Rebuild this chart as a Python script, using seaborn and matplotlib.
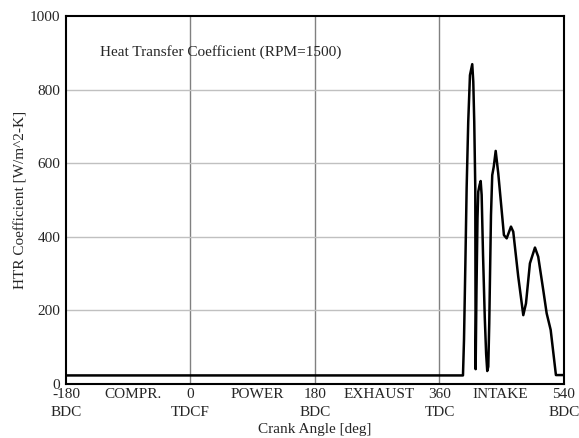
import numpy as np
import pandas as pd
import seaborn as sns
import matplotlib.pyplot as plt

# crank angle [deg] and heat transfer coefficient [W/m^2-K]
crank_angle = [-180, 394.0, 395.5, 397.5, 399.3, 401.6, 404.1, 407.4, 408.9, 410.3,
               411.8, 412.3, 413.5, 415.0, 416.1, 418.0, 419.6, 421.0, 423.0,
               425.5, 427.5, 429.1, 430.6, 432.0, 434.5, 436.3, 438.5, 441.3,
               445.0, 449.9, 453.2, 457.2, 463.4, 466.7, 473.9, 481.2, 485.1,
               490.8, 498.1, 502.8, 510.1, 515.0, 520.8, 528.4, 540]
htr_coeff = [22, 22, 120, 330, 532, 712, 839, 869, 821, 712,
             532, 39, 250, 450, 522, 540, 551, 513, 350,
             180, 80, 34, 46, 164, 458, 567, 590, 633,
             572, 472, 404, 395, 427, 413, 291, 186, 218,
             327, 370, 345, 254, 191, 146, 23, 23]

major_ticks = [-180, 0, 180, 360, 540]
major_labels = ["-180\nBDC", "0\nTDCF", "180\nBDC", "360\nTDC", "540\nBDC"]
phase_names = ["COMPR.", "POWER", "EXHAUST", "INTAKE"]
phase_pos = [-83, 96, 272, 448]

df = pd.DataFrame({"angle": crank_angle, "htr": htr_coeff})

sns.set_style("white")
plt.rcParams['font.family'] = ['Liberation Serif', 'DejaVu Serif']

fig = plt.figure(figsize=(5.79, 4.38), dpi=100)
ax = fig.add_axes([0.114, 0.1244, 0.860, 0.839])

# grid: dark vertical lines at TDC/BDC, light horizontal ones
for v in [0, 180, 360]:
    ax.axvline(v, color='#808080', lw=1.0, zorder=1)
for h in [200, 400, 600, 800]:
    ax.axhline(h, color='#c0c0c0', lw=1.0, zorder=1)

sns.lineplot(data=df, x="angle", y="htr", color='black', lw=1.8, ax=ax, zorder=3)

ax.set_xlim(-180, 540)
ax.set_ylim(0, 1000)
ax.set_yticks(range(0, 1001, 200))
ax.set_xticks(major_ticks)
ax.set_xticklabels(major_labels, fontsize=11, linespacing=1.5)
ax.set_xticks(np.arange(-180, 541, 10), minor=True)
ax.tick_params(axis='x', which='major', length=0, pad=3)
ax.tick_params(axis='x', which='minor', direction='in', length=4, width=0.8, color='black')
ax.tick_params(axis='y', which='major', direction='out', length=2, labelsize=11, pad=2)

# phase names sit on the first line of the tick labels
for name, pos in zip(phase_names, phase_pos):
    ax.text(pos, -0.0125, name, transform=ax.get_xaxis_transform(),
            ha='center', va='top', fontsize=11)

for s in ax.spines.values():
    s.set_color('black')
    s.set_linewidth(1.5)

ax.set_xlabel("Crank Angle [deg]", fontsize=11, labelpad=3)
ax.set_ylabel("HTR Coefficient [W/m^2-K]", fontsize=11, labelpad=2)
ax.text(0.068, 0.903, "Heat Transfer Coefficient (RPM=1500)", transform=ax.transAxes,
        ha='left', va='center', fontsize=11)

fig.savefig("out.png", dpi=100)
